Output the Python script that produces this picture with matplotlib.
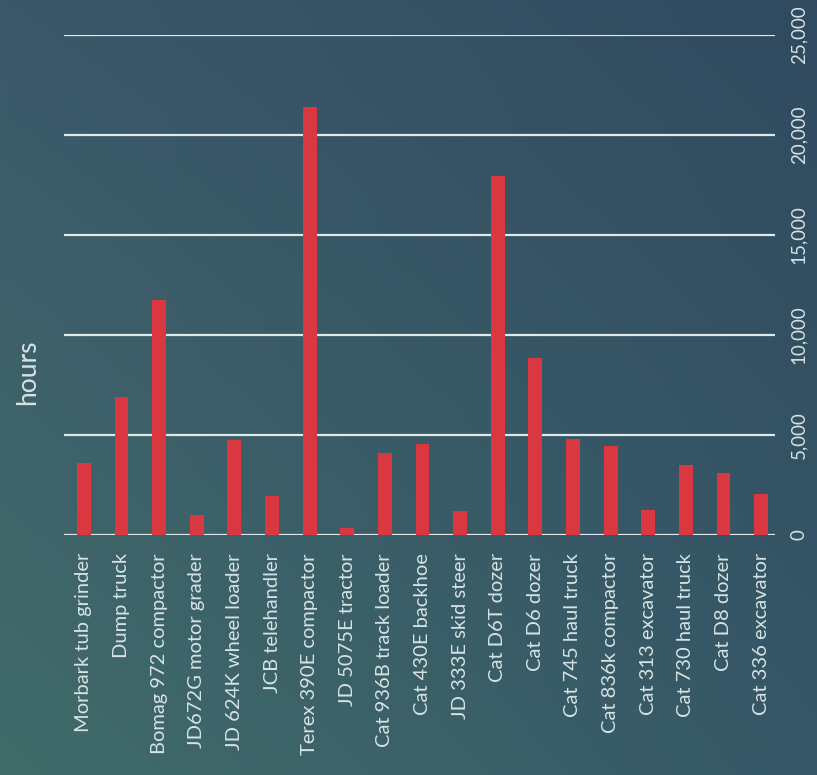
import matplotlib
matplotlib.use("Agg")
import matplotlib.pyplot as plt
import numpy as np

categories = ["Morbark tub grinder", "Dump truck", "Bomag 972 compactor",
              "JD672G motor grader", "JD 624K wheel loader", "JCB telehandler",
              "Terex 390E compactor", "JD 5075E tractor", "Cat 936B track loader",
              "Cat 430E backhoe", "JD 333E skid steer", "Cat D6T dozer",
              "Cat D6 dozer", "Cat 745 haul truck", "Cat 836k compactor",
              "Cat 313 excavator", "Cat 730 haul truck", "Cat D8 dozer",
              "Cat 336 excavator"]
hours = [3600, 6900, 11750, 1000, 4750, 1950, 21400, 350, 4100, 4550,
         1200, 17950, 8850, 4800, 4450, 1250, 3500, 3100, 2050]
yticks = [0, 5000, 10000, 15000, 20000, 25000]

plt.rcParams['font.family'] = ['Lato', 'DejaVu Sans']
text_col = '#d6e3e4'

fig = plt.figure(figsize=(8.17, 7.75), dpi=100)

# background gradient (teal bottom-left to dark blue top-right)
bg = fig.add_axes([0, 0, 1, 1])
corners = np.array([[[0x3b, 0x58, 0x6a], [0x30, 0x4a, 0x5f]],
                    [[0x41, 0x6c, 0x6a], [0x36, 0x58, 0x67]]]) / 255
ny, nx = 200, 200
ty = np.linspace(0, 1, ny)[:, None, None]
tx = np.linspace(0, 1, nx)[None, :, None]
top = corners[0, 0] * (1 - tx) + corners[0, 1] * tx
bot = corners[1, 0] * (1 - tx) + corners[1, 1] * tx
img = top * (1 - ty) + bot * ty
bg.imshow(img, aspect='auto', extent=[0, 1, 0, 1], interpolation='bilinear')
bg.axis('off')

ax = fig.add_axes([0.0783, 0.3097, 0.9486 - 0.0783, 0.9548 - 0.3097])
ax.patch.set_alpha(0)
x = np.arange(len(categories))
ax.bar(x, hours, width=0.37, color='#d93841', zorder=3)

ax.set_ylim(0, 25000)
ax.set_xlim(-0.53, len(categories) - 1 + 0.37)
ax.set_yticks(yticks)
ax.grid(axis='y', color='#dfe9ea', linewidth=1.6, zorder=1)
ax.grid(axis='x', visible=False)
for s in ax.spines.values():
    s.set_visible(False)

ax.yaxis.tick_right()
ax.set_yticklabels([f"{v:,}" for v in yticks], rotation=90, va='center',
                   color=text_col, fontsize=13.5)
ax.tick_params(axis='y', length=0, pad=11)

ax.set_xticks(x)
ax.set_xticklabels(categories, rotation=90, color=text_col, fontsize=14.5)
ax.tick_params(axis='x', length=0, pad=13)

fig.text(28 / 817, 1 - 372 / 775, "hours", rotation=90, ha='center',
         va='center', color=text_col, fontsize=19)

fig.savefig("out.png", dpi=100)
